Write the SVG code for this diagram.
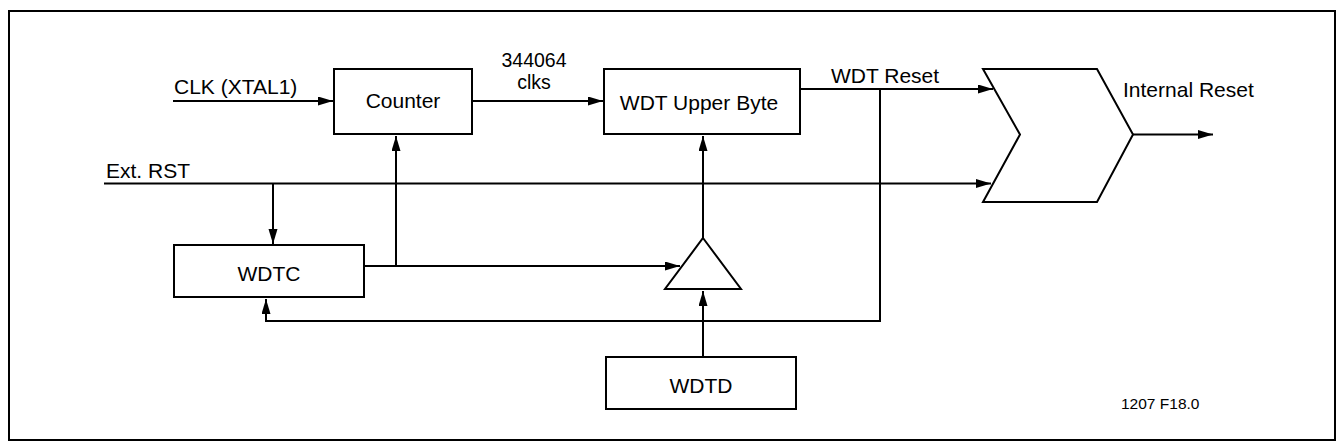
<svg xmlns="http://www.w3.org/2000/svg" width="1340" height="447" viewBox="0 0 1340 447">
<defs>
<style>
.box{fill:#fff;stroke:#000;stroke-width:2}
.ln{fill:none;stroke:#000;stroke-width:2}
.lbl{font-family:"Liberation Sans",Arial,sans-serif;font-size:21px;fill:#000}
.mid{text-anchor:middle}
.stk{font-size:19.5px}
</style>
<marker id="arr" markerUnits="userSpaceOnUse" markerWidth="16" markerHeight="10" refX="15" refY="4.5" orient="auto">
<path d="M0,0 L15,4.5 L0,9 z" fill="#000"/>
</marker>
</defs>
<rect x="0" y="0" width="1340" height="447" fill="#fff"/>
<rect x="9" y="11" width="1326" height="429" fill="none" stroke="#000" stroke-width="2"/>

<g id="connectors">
<line class="ln" x1="173" y1="101" x2="333" y2="101" marker-end="url(#arr)"/>
<line class="ln" x1="472" y1="101" x2="603" y2="101" marker-end="url(#arr)"/>
<line class="ln" x1="800" y1="89" x2="993" y2="89" marker-end="url(#arr)"/>
<line class="ln" x1="104" y1="183.5" x2="991" y2="183.5" marker-end="url(#arr)"/>
<line class="ln" x1="273" y1="183.5" x2="273" y2="244" marker-end="url(#arr)"/>
<line class="ln" x1="364" y1="266" x2="680" y2="266" marker-end="url(#arr)"/>
<line class="ln" x1="396" y1="266" x2="396" y2="136" marker-end="url(#arr)"/>
<line class="ln" x1="703" y1="238" x2="703" y2="136" marker-end="url(#arr)"/>
<line class="ln" x1="703" y1="357" x2="703" y2="291" marker-end="url(#arr)"/>
<polyline class="ln" points="880,89 880,321 266,321 266,299" marker-end="url(#arr)"/>
<line class="ln" x1="1133" y1="134.5" x2="1213" y2="134.5" marker-end="url(#arr)"/>
</g>

<g id="counter">
<rect class="box" x="334" y="69" width="138" height="65"/>
<text class="lbl mid" x="403" y="108">Counter</text>
</g>
<g id="wdt-upper">
<rect class="box" x="604" y="69" width="196" height="65"/>
<text class="lbl mid" x="699" y="110">WDT Upper Byte</text>
</g>
<g id="reset-gate">
<polygon class="box" points="983,69 1097,69 1133,134.5 1097,202 983,202 1020,134.5"/>
</g>
<g id="wdtc">
<rect class="box" x="174" y="245" width="190" height="52"/>
<text class="lbl mid" x="269" y="281">WDTC</text>
</g>
<g id="buffer">
<polygon class="box" points="703,238 741,289 665,289"/>
</g>
<g id="wdtd">
<rect class="box" x="606" y="357" width="190" height="52"/>
<text class="lbl mid" x="701" y="393">WDTD</text>
</g>

<g id="labels">
<text class="lbl" x="174" y="94">CLK (XTAL1)</text>
<text class="lbl mid stk" x="534" y="67">344064</text>
<text class="lbl mid stk" x="534" y="89">clks</text>
<text class="lbl" x="831" y="83">WDT Reset</text>
<text class="lbl" x="1123" y="97">Internal Reset</text>
<text class="lbl" x="106" y="178">Ext. RST</text>
<text class="lbl" x="1121" y="409" style="font-size:15.5px">1207 F18.0</text>
</g>
</svg>
